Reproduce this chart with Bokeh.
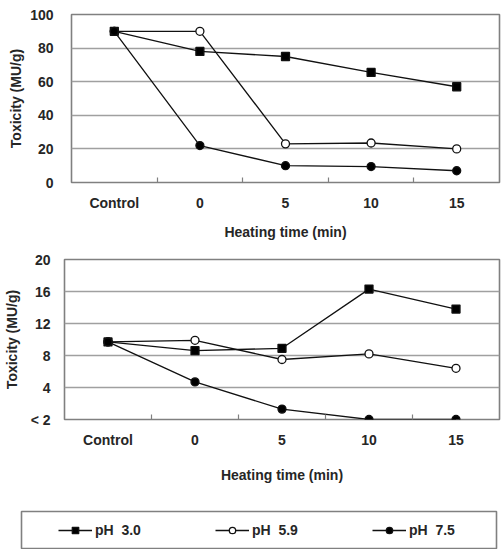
from bokeh.plotting import figure
from bokeh.models import Range1d, FixedTicker, Legend, LegendItem
from bokeh.layouts import column
from bokeh.embed import file_html
from bokeh.resources import INLINE

categories = ["Control", "0", "5", "10", "15"]
series_names = ["pH  3.0", "pH  5.9", "pH  7.5"]

top_ph30 = [90, 78, 75, 65.5, 57]
top_ph59 = [90, 90, 23, 23.5, 20]
top_ph75 = [90, 22, 10, 9.5, 7]

bot_ph30 = [9.7, 8.6, 8.9, 16.3, 13.8]
bot_ph59 = [9.7, 9.9, 7.5, 8.2, 6.4]
bot_ph75 = [9.7, 4.7, 1.3, 0, 0]

top_yticks = [0, 20, 40, 60, 80, 100]
bot_yticks = [0, 4, 8, 12, 16, 20]
bot_ytick_labels = ["< 2", "4", "8", "12", "16", "20"]

x_title = "Heating time (min)"
y_title = "Toxicity (MU/g)"

FONT = "Liberation Sans"
TXT = "#262626"
GRID = "#a0a0a0"
EDGE = "#808080"

positions = list(range(len(categories)))
boundaries = [p + 0.5 for p in positions[:-1]]

styles = [
    dict(marker="square", size=8, fill_color="black"),
    dict(marker="circle", size=8, fill_color="white"),
    dict(marker="circle", size=8, fill_color="black"),
]


def style(p, yticks, ylabels=None, label_standoff=18, title_standoff=3,
          xtitle_standoff=10):
    p.xgrid.visible = False
    p.ygrid.ticker = FixedTicker(ticks=yticks)
    p.ygrid.grid_line_color = GRID
    p.ygrid.grid_line_width = 1.4
    p.outline_line_color = EDGE
    p.outline_line_width = 1.6
    p.outline_line_alpha = 1

    xa = p.xaxis[0]
    xa.ticker = FixedTicker(ticks=positions, minor_ticks=boundaries)
    xa.major_label_overrides = {i: c for i, c in zip(positions, categories)}
    xa.major_tick_line_color = None
    xa.major_tick_in = 0
    xa.major_tick_out = 0
    xa.minor_tick_in = 5
    xa.minor_tick_out = 0
    xa.minor_tick_line_color = EDGE
    xa.minor_tick_line_width = 1.2
    xa.axis_line_color = None
    xa.major_label_standoff = 12
    xa.axis_label = x_title
    xa.axis_label_standoff = xtitle_standoff

    ya = p.yaxis[0]
    ya.ticker = FixedTicker(ticks=yticks)
    if ylabels is not None:
        ya.major_label_overrides = {t: l for t, l in zip(yticks, ylabels)}
    ya.major_tick_line_color = None
    ya.minor_tick_line_color = None
    ya.major_tick_in = 0
    ya.major_tick_out = 0
    ya.minor_tick_in = 0
    ya.minor_tick_out = 0
    ya.axis_line_color = None
    ya.major_label_standoff = label_standoff
    ya.axis_label = y_title
    ya.axis_label_standoff = title_standoff

    for ax in (xa, ya):
        ax.major_label_text_font = FONT
        ax.major_label_text_font_size = "14px"
        ax.major_label_text_font_style = "bold"
        ax.major_label_text_color = TXT
        ax.axis_label_text_font = FONT
        ax.axis_label_text_font_size = "14px"
        ax.axis_label_text_font_style = "bold"
        ax.axis_label_text_color = TXT


def draw(p, datasets):
    rends = []
    for vals, st in zip(datasets, styles):
        l = p.line(x=positions, y=vals, line_color="#111111", line_width=1.3)
        s = p.scatter(x=positions, y=vals, marker=st["marker"], size=st["size"],
                      fill_color=st["fill_color"], line_color="#111111", line_width=1.3)
        rends.append((l, s))
    return rends


p1 = figure(width=502, height=245,
            x_range=Range1d(-0.5, 4.5), y_range=Range1d(0, 100),
            output_backend="svg", toolbar_location=None, frame_align=False,
            min_border_left=71, min_border_right=3,
            min_border_top=14, min_border_bottom=63)
style(p1, top_yticks, label_standoff=18, title_standoff=3, xtitle_standoff=10)
draw(p1, [top_ph30, top_ph59, top_ph75])

p2 = figure(width=502, height=260,
            x_range=Range1d(-0.5, 4.5), y_range=Range1d(0, 20),
            output_backend="svg", toolbar_location=None, frame_align=False,
            min_border_left=63, min_border_right=3,
            min_border_top=14, min_border_bottom=86)
style(p2, bot_yticks, bot_ytick_labels, label_standoff=14, title_standoff=8,
      xtitle_standoff=16)
draw(p2, [bot_ph30, bot_ph59, bot_ph75])

# legend panel
p3 = figure(width=502, height=44,
            x_range=Range1d(-0.5, 4.5), y_range=Range1d(-1000, -999),
            output_backend="svg", toolbar_location=None, frame_align=False,
            x_axis_location=None, y_axis_location=None,
            min_border_left=21, min_border_right=6,
            min_border_top=6, min_border_bottom=1)
p3.xgrid.visible = False
p3.ygrid.visible = False
p3.outline_line_color = EDGE
p3.outline_line_width = 1.6
lr = draw(p3, [top_ph30, top_ph59, top_ph75])
items = [LegendItem(label=n, renderers=list(r)) for n, r in zip(series_names, lr)]
leg = Legend(items=items, orientation="horizontal", location="left",
             glyph_width=34, glyph_height=16, label_standoff=3, spacing=72,
             label_width=48, padding=0, margin=37,
             border_line_alpha=0, background_fill_alpha=0,
             label_text_font=FONT, label_text_font_size="14px",
             label_text_font_style="bold", label_text_color=TXT)
p3.add_layout(leg)

layout = column(p1, p2, p3)
open("out.html", "w").write(file_html(layout, INLINE))
